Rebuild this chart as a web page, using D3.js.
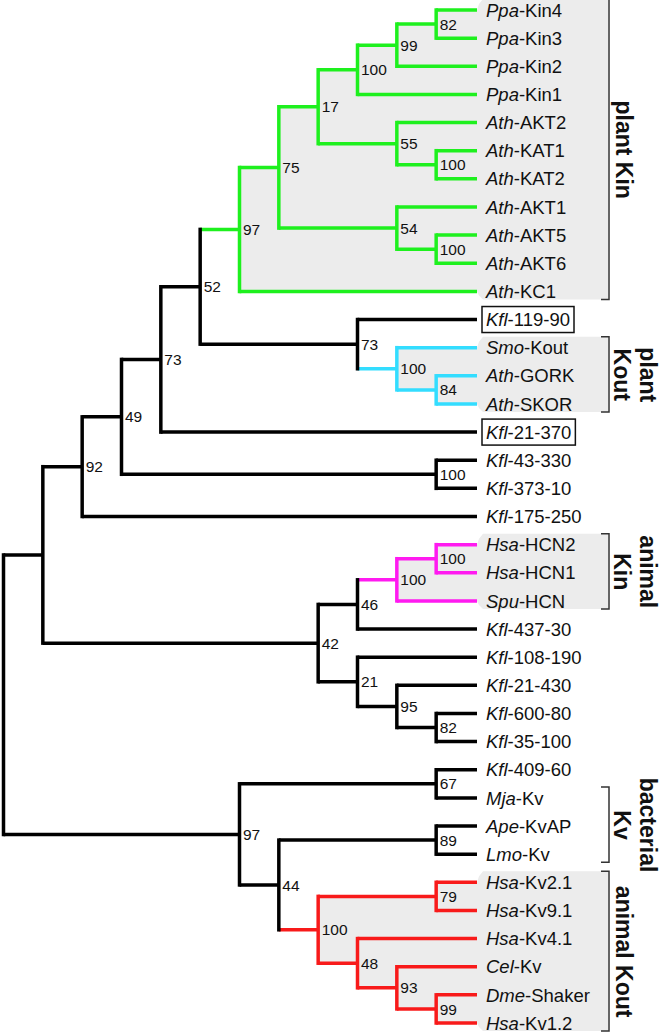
<!DOCTYPE html>
<html>
<head>
<meta charset="utf-8">
<script src="https://cdn.jsdelivr.net/npm/d3@7"></script>
<style>
  html, body { margin: 0; padding: 0; background: #ffffff; }
  svg { display: block; }
  text { font-family: "Liberation Sans", Arial, Helvetica, sans-serif; }
</style>
</head>
<body>
<svg id="chart" width="660" height="1033"></svg>
<script>
// ---------------- DATA ----------------
// Tree topology with bootstrap support values (Newick)
const treeNewick =
  "((((((((((((Ppa-Kin4,Ppa-Kin3)82,Ppa-Kin2)99,Ppa-Kin1)100,(Ath-AKT2,(Ath-KAT1,Ath-KAT2)100)55)17," +
  "(Ath-AKT1,(Ath-AKT5,Ath-AKT6)100)54)75,Ath-KC1)97," +
  "(Kfl-119-90,(Smo-Kout,(Ath-GORK,Ath-SKOR)84)100)73)52,Kfl-21-370)73," +
  "(Kfl-43-330,Kfl-373-10)100)49,Kfl-175-250)92," +
  "((((Hsa-HCN2,Hsa-HCN1)100,Spu-HCN)100,Kfl-437-30)46," +
  "(Kfl-108-190,(Kfl-21-430,(Kfl-600-80,Kfl-35-100)82)95)21)42)," +
  "((Kfl-409-60,Mja-Kv)67,((Ape-KvAP,Lmo-Kv)89," +
  "((Hsa-Kv2.1,Hsa-Kv9.1)79,(Hsa-Kv4.1,(Cel-Kv,(Dme-Shaker,Hsa-Kv1.2)99)93)48)100)44)97);";

// Groups (brackets on the right)
const groupLabelLines = [["plant Kin"], ["plant", "Kout"], ["animal", "Kin"], ["bacterial", "Kv"], ["animal Kout"]];
const groupFirstLeaf  = ["Ppa-Kin4", "Smo-Kout", "Hsa-HCN2", "Mja-Kv", "Hsa-Kv2.1"];
const groupLastLeaf   = ["Ath-KC1", "Ath-SKOR", "Spu-HCN", "Lmo-Kv", "Hsa-Kv1.2"];
const groupShaded     = [true, true, true, false, true];
const groupColor      = ["#1ef01e", "#33ddff", "#ff1af0", null, "#f81a1a"];

// Leaves drawn with a box around their label
const boxedLeaves = ["Kfl-119-90", "Kfl-21-370"];

// ---------------- PARSE ----------------
function parseNewick(s) {
  let i = 0;
  function node() {
    const n = {};
    if (s[i] === "(") {
      i++;
      n.children = [];
      n.children.push(node());
      while (s[i] === ",") { i++; n.children.push(node()); }
      i++; // ')'
    }
    let label = "";
    while (i < s.length && !",);".includes(s[i])) label += s[i++];
    if (n.children) n.support = label; else n.name = label;
    return n;
  }
  return node();
}

const root = d3.hierarchy(parseNewick(treeNewick));
const leaves = root.leaves();
const leafNames = leaves.map(d => d.data.name);

// ---------------- SCALES ----------------
const y = d3.scalePoint().domain(leafNames).range([10, 1023]);
const x = d3.scaleLinear().domain([0, root.height]).range([475.5, 3.5]);
const leafExt = 1.5;
const LW = 3.5;

root.eachAfter(n => {
  n.px = x(n.height);
  if (!n.children) n.py = y(n.data.name);
  else n.py = (n.children[0].py + n.children[n.children.length - 1].py) / 2;
});

// colour assignment
const byName = new Map(leaves.map(l => [l.data.name, l]));
function lca(a, b) {
  const anc = new Set(a.ancestors());
  return b.ancestors().find(n => anc.has(n));
}
root.each(n => n.color = "#000000");
const groupRoots = groupFirstLeaf.map((f, i) => lca(byName.get(f), byName.get(groupLastLeaf[i])));
groupRoots.forEach((g, i) => {
  if (groupColor[i]) g.each(n => n.color = groupColor[i]);
});

const svg = d3.select("#chart");

// ---------------- SHADED REGIONS ----------------
const shadeRight = 608;
groupRoots.forEach((g, i) => {
  if (!groupShaded[i]) return;
  const first = byName.get(groupFirstLeaf[i]);
  const last = byName.get(groupLastLeaf[i]);
  const topY = first.py - 11, botY = last.py + 8;
  const endX = x(0) + leafExt;
  const top = [];
  let n = g;
  while (n.children) {
    const c = n.children[0];
    top.push([n.px, c.py]);
    top.push([c.children ? c.px : endX, c.py]);
    n = c;
  }
  const bot = [];
  n = g;
  while (n.children) {
    const c = n.children[n.children.length - 1];
    bot.push([n.px, c.py]);
    bot.push([c.children ? c.px : endX, c.py]);
    n = c;
  }
  const pts = top.concat([
    [endX + 2, first.py - 6], [endX + 6, topY],
    [shadeRight, topY], [shadeRight, botY],
    [endX + 6, botY], [endX + 2, last.py + 4]
  ]).concat(bot.reverse());
  svg.append("polygon")
    .attr("points", pts.map(p => p.join(",")).join(" "))
    .attr("fill", "#ececec");
});

// ---------------- BRACKETS ----------------
groupFirstLeaf.forEach((f, i) => {
  const t = byName.get(f).py - 11, b = byName.get(groupLastLeaf[i]).py + 8;
  svg.append("path")
    .attr("d", `M${shadeRight - 7},${t}H${shadeRight + 1}V${b}H${shadeRight - 7}`)
    .attr("fill", "none").attr("stroke", "#333").attr("stroke-width", 1.5);
});

// ---------------- BRANCHES ----------------
const links = svg.append("g");
root.descendants().filter(n => n.parent).forEach(n => {
  const x1 = n.children ? n.px : x(0) + leafExt;
  links.append("path")
    .attr("d", `M${n.parent.px},${n.py}H${x1}`)
    .attr("fill", "none").attr("stroke", n.color).attr("stroke-width", LW);
});
root.descendants().filter(n => n.children).forEach(n => {
  links.append("path")
    .attr("d", `M${n.px},${n.children[0].py}V${n.children[n.children.length - 1].py}`)
    .attr("fill", "none").attr("stroke", n.color).attr("stroke-width", LW)
    .attr("stroke-linecap", "square");
});

// ---------------- SUPPORT VALUES ----------------
root.descendants().filter(n => n.children && n.data.support).forEach(n => {
  svg.append("text")
    .attr("x", n.px + 3.5).attr("y", n.py).attr("dy", "0.36em")
    .style("font-size", "15.5px").attr("fill", "#111")
    .text(n.data.support);
});

// ---------------- LEAF LABELS ----------------
const labelX = x(0) + 10.5;
leaves.forEach(l => {
  const parts = l.data.name.split("-");
  const t = svg.append("text")
    .attr("x", labelX).attr("y", l.py).attr("dy", "0.36em")
    .style("font-size", "18.5px").attr("fill", "#111");
  t.append("tspan").style("font-style", "italic").text(parts[0]);
  t.append("tspan").text("-" + parts.slice(1).join("-"));
  if (boxedLeaves.includes(l.data.name)) {
    const bb = t.node().getBBox();
    svg.insert("rect", "text")
      .attr("x", bb.x - 4).attr("y", l.py - 13)
      .attr("width", bb.width + 8).attr("height", 26)
      .attr("fill", "#ffffff").attr("stroke", "#111").attr("stroke-width", 1.5);
  }
});

// ---------------- GROUP LABELS ----------------
groupLabelLines.forEach((lines, i) => {
  const cy = (byName.get(groupFirstLeaf[i]).py + byName.get(groupLastLeaf[i]).py) / 2 - 1;
  const baseX = lines.length === 1 ? 616 : 640;
  const t = svg.append("text")
    .attr("transform", `translate(${baseX},${cy}) rotate(90)`)
    .attr("text-anchor", "middle")
    .style("font-size", "23px").style("font-weight", "bold").attr("fill", "#111");
  lines.forEach((ln, k) => {
    t.append("tspan").attr("x", 0).attr("y", k * 26).text(ln);
  });
});
</script>
</body>
</html>
